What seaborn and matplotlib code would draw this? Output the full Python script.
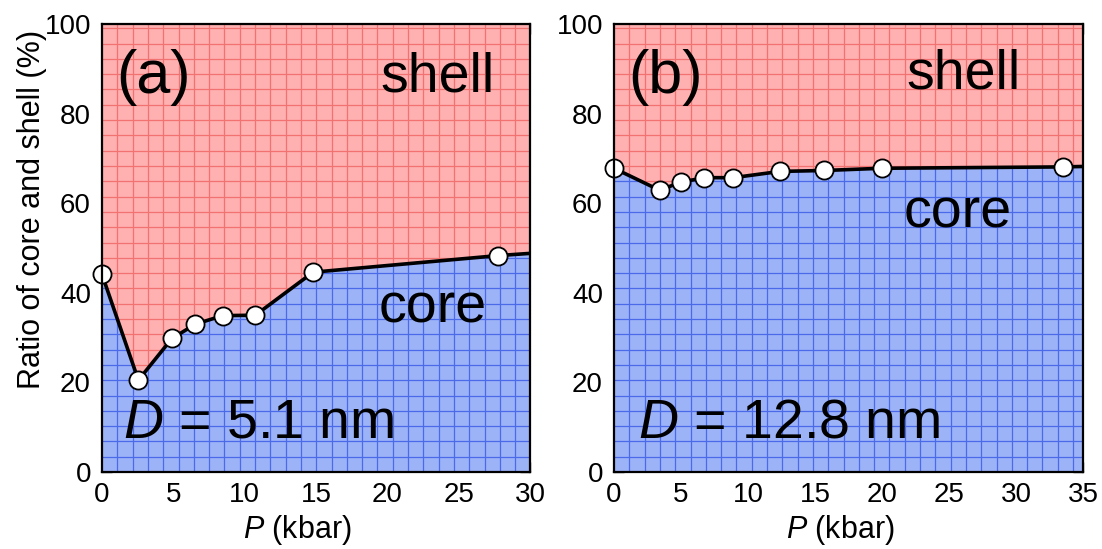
import numpy as np
import matplotlib
matplotlib.use("Agg")
import matplotlib.pyplot as plt
from matplotlib.collections import LineCollection
from matplotlib.ticker import MultipleLocator
import seaborn as sns
import pandas as pd

# Core fraction (%) versus pressure for the two particle sizes
p_a = [0.0, 2.55, 4.9, 6.55, 8.45, 10.75, 14.8, 27.75]
core_a = [44.1, 20.5, 29.8, 33.0, 34.9, 35.0, 44.6, 48.3]
edge_a = (30.0, 48.8)

p_b = [0.0, 3.4, 5.0, 6.75, 8.9, 12.4, 15.7, 20.0, 33.5]
core_b = [67.8, 62.9, 64.7, 65.7, 65.7, 67.1, 67.3, 67.8, 68.1]
edge_b = (35.0, 68.2)

panel_labels = ["(a)", "(b)"]
size_labels = ["5.1 nm", "12.8 nm"]
x_limits = [30, 35]

sns.set_style("ticks")
plt.rcParams["font.family"] = ["Liberation Sans", "DejaVu Sans"]
plt.rcParams["mathtext.fontset"] = "custom"
plt.rcParams["mathtext.it"] = "Liberation Sans:italic"
plt.rcParams["mathtext.rm"] = "Liberation Sans"
for key in ("text.color", "axes.labelcolor", "xtick.labelcolor",
            "ytick.labelcolor"):
    plt.rcParams[key] = "black"

fig = plt.figure(figsize=(11.02, 5.49), dpi=100)
ax_a = fig.add_axes([102 / 1102, 1 - 472 / 549, 428 / 1102, 448 / 549])
ax_b = fig.add_axes([614 / 1102, 1 - 472 / 549, 469 / 1102, 448 / 549])

SHELL = "#ffb0b0"
SHELL_GRID = "#f27272"
CORE = "#9db3f8"
CORE_GRID = "#4a6aea"
CELL_PX = 15.3


def grid_lines(xmax, px_w, px_h):
    dx = CELL_PX * xmax / px_w
    dy = CELL_PX * 100 / px_h
    segs = []
    for x in np.arange(dx, xmax, dx):
        segs.append([(x, 0), (x, 100)])
    for y in np.arange(dy, 100, dy):
        segs.append([(0, y), (xmax, y)])
    return segs


def draw_panel(ax, p, core, edge, xmax, px_w, label, size_label, txt_pos,
               xlabel_x):
    px_h = 448
    xs = np.array(p + [edge[0]])
    ys = np.array(core + [edge[1]])

    shell_poly = ax.fill_between(xs, ys, 100, color=SHELL, lw=0, zorder=1)
    core_poly = ax.fill_between(xs, 0, ys, color=CORE, lw=0, zorder=1)
    segs = grid_lines(xmax, px_w, px_h)
    for poly, col in ((shell_poly, SHELL_GRID), (core_poly, CORE_GRID)):
        lc = LineCollection(segs, colors=col, linewidths=0.9, zorder=2)
        ax.add_collection(lc)
        path = poly.get_paths()[0]
        lc.set_clip_path(path, ax.transData)

    df = pd.DataFrame({"P": xs, "core": ys})
    sns.lineplot(data=df, x="P", y="core", ax=ax, color="black", lw=2.6,
                 sort=False, zorder=3)
    pts = pd.DataFrame({"P": p, "core": core})
    sns.scatterplot(data=pts, x="P", y="core", ax=ax, s=170, color="white",
                    edgecolor="black", linewidth=1.3, zorder=4, clip_on=False)

    ax.set_xlim(0, xmax)
    ax.set_ylim(0, 100)
    ax.xaxis.set_major_locator(MultipleLocator(5))
    ax.xaxis.set_minor_locator(MultipleLocator(1))
    ax.yaxis.set_major_locator(MultipleLocator(20))
    ax.yaxis.set_minor_locator(MultipleLocator(5))
    ax.tick_params(which="both", direction="in", top=True, right=True,
                   labelsize=20, color="#333333")
    ax.tick_params(which="major", length=7, width=1.0)
    ax.tick_params(which="minor", length=4, width=0.8)
    ax.tick_params(axis="x", which="major", pad=7)
    ax.tick_params(axis="y", which="major", pad=8)
    for s in ax.spines.values():
        s.set_linewidth(1.6)
        s.set_color("black")
        s.set_zorder(6)
    ax.set_xlabel(r"$P$ (kbar)", fontsize=22)
    ax.xaxis.set_label_coords(xlabel_x, -0.0915)
    ax.set_ylabel("")

    (lx, ly), (sx, sy), (cx, cy), (dx_, dy_) = txt_pos
    ax.text(lx, ly, label, fontsize=44, va="baseline", ha="left", zorder=7)
    ax.text(sx, sy, "shell", fontsize=40, va="baseline", ha="left", zorder=7)
    ax.text(cx, cy, "core", fontsize=40, va="baseline", ha="left", zorder=7)
    ax.text(dx_, dy_, r"$D$" + " = " + size_label, fontsize=40,
            va="baseline", ha="left", zorder=7)


draw_panel(ax_a, p_a, core_a, edge_a, x_limits[0], 428, panel_labels[0],
           size_labels[0],
           [(1.0, 84.6), (19.5, 85.0), (19.4, 33.3), (1.5, 7.6)], 0.456)
draw_panel(ax_b, p_b, core_b, edge_b, x_limits[1], 469, panel_labels[1],
           size_labels[1],
           [(1.1, 84.6), (21.8, 85.7), (21.6, 54.5), (1.8, 7.6)], 0.482)

ax_a.set_ylabel("Ratio of core and shell (%)", fontsize=22)
ax_a.yaxis.set_label_coords(-0.128, 0.587)

fig.savefig("out.png", dpi=100)
